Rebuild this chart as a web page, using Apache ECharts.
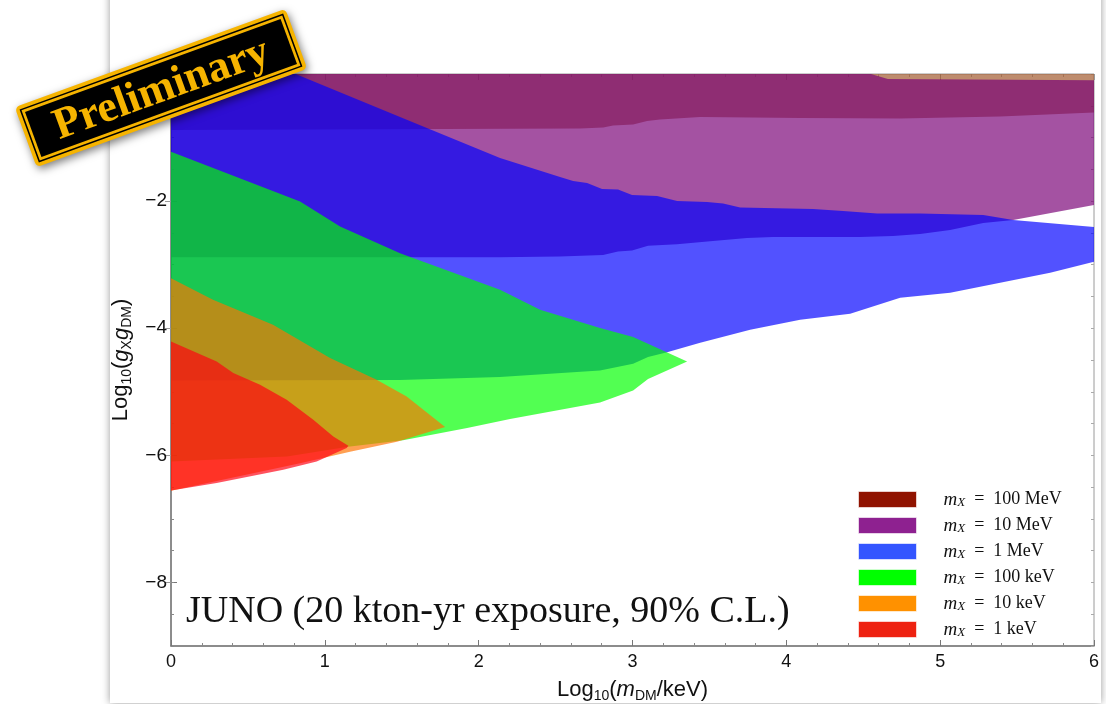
<!DOCTYPE html>
<html>
<head>
<meta charset="utf-8">
<script src="https://cdn.jsdelivr.net/npm/echarts@6/dist/echarts.min.js"></script>
<style>
  html, body { margin: 0; padding: 0; background: #fff; }
  #chart { width: 1106px; height: 704px; }
</style>
</head>
<body>
<div id="chart"></div>
<script>
// Excluded regions in the (log10 mDM/keV, log10 gX*gDM) plane.
// Each region is bounded by an upper and a lower curve, both listed left to right.
const mediatorNames = ['100 MeV', '10 MeV', '1 MeV', '100 keV', '10 keV', '1 keV'];

const upper100MeV = [[0, 0], [6, 0]];
const lower100MeV = [[0, -0.88], [2.66, -0.857], [2.81, -0.841], [2.874, -0.81], [3.004, -0.794],
  [3.095, -0.739], [3.179, -0.715], [3.44, -0.676], [4.09, -0.692], [4.74, -0.70], [5.39, -0.668], [6, -0.605]];

const upper10MeV = [[0, 0], [4.55, 0], [4.66, -0.08], [6, -0.1]];
const lower10MeV = [[0, -2.882], [2.139, -2.882], [2.529, -2.873], [2.809, -2.846], [2.906, -2.794],
  [2.997, -2.778], [3.101, -2.704], [3.29, -2.678], [3.505, -2.63], [3.745, -2.579], [3.914, -2.563],
  [4.48, -2.563], [4.694, -2.547], [4.87, -2.516], [5.065, -2.453], [5.28, -2.343], [5.475, -2.296], [6, -2.06]];

const upper1MeV = [[0, 0], [0.81, 0], [1.489, -0.676], [2.139, -1.321], [2.529, -1.619], [2.614, -1.682],
  [2.705, -1.714], [2.802, -1.808], [2.906, -1.816], [2.997, -1.903], [3.16, -1.918], [3.29, -1.997],
  [3.485, -2.013], [3.589, -2.036], [3.7, -2.099], [4.174, -2.123], [4.369, -2.154], [4.59, -2.193],
  [4.87, -2.193], [5.28, -2.217], [5.475, -2.296], [6, -2.406]];
const lower1MeV = [[0, -4.822], [1.489, -4.816], [2.139, -4.769], [2.789, -4.665], [3.004, -4.56],
  [3.101, -4.454], [3.225, -4.379], [3.44, -4.23], [3.765, -4.025], [4.09, -3.868], [4.415, -3.774],
  [4.74, -3.522], [5.065, -3.443], [5.39, -3.286], [5.715, -3.129], [6, -2.956]];

const upper100keV = [[0, -1.222], [0.839, -2.008], [1.099, -2.401], [1.489, -2.819], [2.139, -3.396],
  [2.399, -3.711], [2.789, -3.998], [3.004, -4.14], [3.355, -4.524]];
const lower100keV = [[0, -6.096], [0.754, -6.017], [1.151, -5.865], [1.508, -5.763], [1.925, -5.571],
  [2.204, -5.429], [2.789, -5.168], [3.004, -4.98], [3.101, -4.8], [3.355, -4.524]];

const upper10keV = [[0, -3.212], [0.273, -3.553], [0.663, -3.947], [1.034, -4.47], [1.337, -4.811],
  [1.532, -5.074], [1.782, -5.555]];
const lower10keV = [[0, -6.557], [0.839, -6.124], [1.164, -5.943], [1.469, -5.786], [1.782, -5.555]];

const upper1keV = [[0, -4.209], [0.297, -4.524], [0.405, -4.706], [0.579, -4.89], [0.752, -5.126],
  [0.925, -5.44], [1.055, -5.703], [1.153, -5.849]];
const lower1keV = [[0, -6.552], [0.297, -6.436], [0.73, -6.226], [0.947, -6.096], [1.142, -5.885], [1.153, -5.849]];

// Translucent fills inside the plot, opaque swatches in the key
const fillColors = ['rgba(159,86,42,0.68)', 'rgba(121,0,118,0.68)', 'rgba(0,0,255,0.68)',
  'rgba(0,255,0,0.68)', 'rgba(255,115,0,0.68)', 'rgba(255,0,17,0.68)'];
const keyColors = ['#901300', '#8e2190', '#3355ff', '#00ff00', '#ff9100', '#ee2211'];

const regionBounds = [
  [upper100MeV, lower100MeV], [upper10MeV, lower10MeV], [upper1MeV, lower1MeV],
  [upper100keV, lower100keV], [upper10keV, lower10keV], [upper1keV, lower1keV]
];

const yMajorTicks = [-8, -6, -4, -2];
const minus = s => String(s).replace('-', '\u2212');

function regionSeries(i) {
  const [up, low] = regionBounds[i];
  const ring = up.concat(low.slice().reverse());
  return {
    type: 'custom',
    name: mediatorNames[i],
    coordinateSystem: 'cartesian2d',
    xAxisIndex: 0, yAxisIndex: 0,
    data: ring,
    encode: { x: 0, y: 1 },
    silent: true,
    animation: false,
    itemStyle: { color: keyColors[i] },
    renderItem(params, api) {
      if (params.dataIndex !== 0) return null;
      return {
        type: 'polygon',
        shape: { points: ring.map(p => api.coord(p)) },
        style: { fill: fillColors[i], stroke: null }
      };
    }
  };
}

const sansFont = 'Liberation Sans, Arial, sans-serif';
const serifFont = 'Liberation Serif, Times New Roman, serif';
const nameRich = {
  n: { fontFamily: sansFont, fontSize: 22, color: '#111', lineHeight: 26 },
  i: { fontFamily: sansFont, fontSize: 22, fontStyle: 'italic', color: '#111', lineHeight: 26 },
  s: { fontFamily: sansFont, fontSize: 14, color: '#111', lineHeight: 15, verticalAlign: 'bottom' }
};

const chart = echarts.init(document.getElementById('chart'), null, { renderer: 'canvas' });

const bannerZ = 300;

chart.setOption({
  backgroundColor: '#ffffff',
  animation: false,
  grid: {
    left: 171, top: 74, width: 923, height: 572,
    outerBoundsMode: 'none', containLabel: false,
    show: true, borderColor: '#9a9a9a', borderWidth: 1, backgroundColor: 'transparent'
  },
  xAxis: [
    {
      type: 'value', min: 0, max: 6, interval: 1, position: 'bottom',
      name: '{n|Log}{s|10}{n|(}{i|m}{s|DM}{n|/keV)}',
      nameLocation: 'middle', nameGap: 31,
      nameTextStyle: { rich: nameRich },
      axisLine: { show: true, onZero: false, lineStyle: { color: '#777', width: 1.5 } },
      axisTick: { show: true, inside: true, length: 6, lineStyle: { color: '#777' } },
      minorTick: { show: true, splitNumber: 5, length: 3, lineStyle: { color: '#888' } },
      axisLabel: { margin: 7, fontFamily: sansFont, fontSize: 18, color: '#111' },
      splitLine: { show: false }
    },
    {
      type: 'value', min: 0, max: 6, interval: 1, position: 'top',
      axisLine: { show: false },
      axisTick: { show: true, inside: true, length: 6, lineStyle: { color: '#999' } },
      minorTick: { show: true, splitNumber: 5, length: 3, lineStyle: { color: '#aaa' } },
      axisLabel: { show: false },
      splitLine: { show: false }
    }
  ],
  yAxis: [
    {
      type: 'value', min: -9, max: 0, interval: 1, position: 'left',
      name: '{n|Log}{s|10}{n|(}{i|g}{s|X}{i|g}{s|DM}{n|)}',
      nameLocation: 'middle', nameGap: 36, nameRotate: 90,
      nameTextStyle: { rich: nameRich },
      axisLine: { show: true, onZero: false, lineStyle: { color: '#777', width: 1.5 } },
      axisTick: { show: true, inside: true, length: 6, customValues: yMajorTicks, lineStyle: { color: '#777' } },
      axisLabel: { margin: 4, customValues: yMajorTicks, fontFamily: sansFont, fontSize: 19, color: '#111', formatter: minus },
      splitLine: { show: false }
    },
    {
      type: 'value', min: -9, max: 0, interval: 0.5, position: 'left',
      axisLine: { show: false },
      axisTick: { show: true, inside: true, length: 3, lineStyle: { color: '#888' } },
      axisLabel: { show: false },
      splitLine: { show: false }
    },
    {
      type: 'value', min: -9, max: 0, interval: 1, position: 'right',
      axisLine: { show: false },
      axisTick: { show: true, inside: true, length: 6, customValues: yMajorTicks, lineStyle: { color: '#999' } },
      axisLabel: { show: false },
      splitLine: { show: false }
    },
    {
      type: 'value', min: -9, max: 0, interval: 0.5, position: 'right',
      axisLine: { show: false },
      axisTick: { show: true, inside: true, length: 3, lineStyle: { color: '#aaa' } },
      axisLabel: { show: false },
      splitLine: { show: false }
    }
  ],
  legend: {
    orient: 'vertical',
    left: 853, top: 485,
    itemWidth: 58, itemHeight: 16, itemGap: 7,
    icon: 'rect',
    data: mediatorNames.map((n, i) => ({ name: n, itemStyle: { color: keyColors[i], borderColor: 'rgba(255,255,255,0.6)', borderWidth: 1 } })),
    formatter: n => '{sp|}{m|m}{x|X}{t|  =  ' + n + '}',
    textStyle: {
      rich: {
        sp: { width: 22 },
        m: { fontFamily: serifFont, fontStyle: 'italic', fontSize: 19, color: '#111', lineHeight: 19 },
        x: { fontFamily: serifFont, fontStyle: 'italic', fontSize: 13, color: '#111', lineHeight: 13, verticalAlign: 'bottom' },
        t: { fontFamily: serifFont, fontSize: 18, color: '#111', lineHeight: 19 }
      }
    },
    selectedMode: false
  },
  graphic: [
    {
      type: 'rect', z: -100, silent: true,
      shape: { x: 110, y: -20, width: 991, height: 723 },
      style: { fill: '#fff', shadowBlur: 8, shadowColor: 'rgba(0,0,0,0.4)' }
    },
    {
      type: 'text', z: 50, silent: true,
      x: 186, y: 612,
      style: { text: 'JUNO (20 kton-yr exposure, 90% C.L.)', font: '38px ' + serifFont, fill: '#111', verticalAlign: 'middle' }
    },
    {
      type: 'group', z: bannerZ, silent: true,
      x: 161, y: 88, rotation: 20 * Math.PI / 180,
      children: [
        { type: 'rect', z: bannerZ, shape: { x: -144, y: -32, width: 288, height: 64, r: 5 },
          style: { fill: '#f6b400', shadowBlur: 8, shadowOffsetX: 2, shadowOffsetY: 3, shadowColor: 'rgba(0,0,0,0.5)' } },
        { type: 'rect', z: bannerZ + 1, shape: { x: -139.5, y: -27.5, width: 279, height: 55 },
          style: { fill: 'none', stroke: '#000', lineWidth: 1.5 } },
        { type: 'rect', z: bannerZ + 2, shape: { x: -136, y: -24, width: 272, height: 48 },
          style: { fill: '#000' } },
        { type: 'text', z: bannerZ + 3, x: 0, y: 2,
          style: { text: 'Preliminary', font: 'bold 44px ' + serifFont, fill: '#f6b400', align: 'center', verticalAlign: 'middle' } }
      ]
    }
  ],
  series: mediatorNames.map((n, i) => regionSeries(i))
});
</script>
</body>
</html>
